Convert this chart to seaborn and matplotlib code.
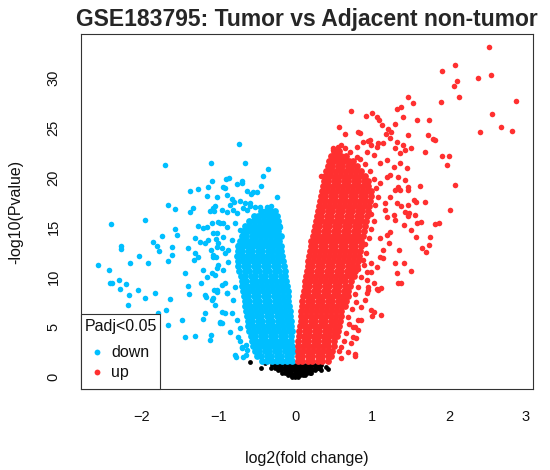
import matplotlib
matplotlib.use("Agg")
import matplotlib.pyplot as plt
from matplotlib.patches import Rectangle
import numpy as np
import pandas as pd
import seaborn as sns

# ---- data (log2 fold change, -log10 p) ----
# scattered "down" genes
down_x = [-0.73, -1.69, -1.10, -0.65, -0.35, -0.90, -0.86, -1.08, -0.70, -0.76, -0.42, -1.37, -1.27, -1.14,
          -0.92, -0.44, -0.63, -0.50, -0.58, -1.15, -0.24, -0.83, -0.80, -0.72, -0.65, -1.66, -1.56, -1.37,
          -1.33, -1.04, -1.11, -1.06, -0.89, -0.81, -0.68, -0.63, -0.59, -0.46, -0.37, -0.31, -1.95, -2.40,
          -1.26, -1.20, -1.15, -1.08, -0.98, -0.94, -1.56, -1.54, -1.73, -1.85, -1.80, -1.77, -2.27, -2.27,
          -1.60, -1.39, -1.30, -1.24, -1.18, -1.14, -1.02, -1.03, -1.00, -1.10, -1.07, -1.03, -0.95, -0.91,
          -2.57, -2.42, -2.15, -2.03, -1.92, -1.66, -1.61, -1.44, -1.30, -1.32, -1.26, -1.20, -1.15, -1.09,
          -1.02, -2.41, -2.38, -2.29, -2.28, -2.20, -2.16, -2.04, -1.95, -1.82, -1.63, -1.39, -1.38, -1.23,
          -1.17, -1.02, -0.89, -2.18, -1.78, -1.68, -1.66, -1.48, -1.43, -1.30, -1.20, -1.11, -1.10, -1.18,
          -1.16, -1.09, -1.06, -1.04, -0.98, -0.96, -0.92, -0.96, -0.72, -0.64, -0.69, -0.77, -0.64,
          -1.07, -1.00, -1.04, -0.94, -0.87, -0.91, -1.02, -1.07, -0.89, -0.81, -0.96, -0.83, -0.76, -0.98,
          -0.85, -0.74, -0.70, -0.78, -0.68, -0.63, -0.72, -0.78, -0.70, -0.55, -0.59, -0.52, -0.33, -0.29,
          -0.24, -0.20, -0.94, -1.02, -0.89, -1.07, -0.96, -0.85, -0.76, -1.00, -0.89, -0.78, -1.07, -0.94,
          -0.83, -0.72, -1.02, -0.87, -0.74]
down_y = [23.37, 21.26, 21.40, 21.43, 20.83, 19.86, 19.93, 19.63, 19.60, 19.33, 20.10, 18.66, 18.80, 19.06,
          18.93, 19.16, 18.60, 18.53, 18.30, 18.15, 17.99, 17.82, 17.55, 17.65, 17.45, 17.25, 16.79, 16.55,
          16.89, 17.12, 16.59, 16.62, 16.52, 16.72, 16.89, 16.72, 17.12, 17.05, 17.05, 17.12, 15.72, 15.32,
          15.12, 14.88, 15.05, 15.39, 15.39, 15.45, 14.78, 14.21, 14.14, 13.48, 13.14, 12.64, 13.14, 12.84,
          13.04, 12.88, 13.94, 13.54, 13.44, 13.71, 14.44, 13.78, 13.38, 12.71, 12.21, 12.04, 12.88, 12.38,
          11.20, 10.73, 11.43, 12.11, 11.37, 11.63, 12.21, 10.37, 12.38, 11.71, 12.04, 10.70, 10.03, 10.37,
          10.87, 9.37, 9.43, 9.70, 8.80, 9.27, 8.19, 8.70, 7.86, 8.43, 7.79, 9.10, 8.26, 9.37,
          8.22, 8.53, 8.43, 7.19, 6.42, 6.69, 5.19, 5.69, 3.95, 4.11, 5.76, 3.68, 4.18, 6.36,
          8.02, 7.69, 8.70, 7.19, 5.52, 9.20, 6.36, 5.35, 3.58, 3.18, 2.85, 2.01, 2.18,
          12.04, 11.20, 10.20, 10.70, 11.53, 9.37, 8.70, 7.86, 8.36, 7.69, 6.52, 6.36, 5.69, 5.36,
          4.51, 4.01, 3.01, 2.18, 2.01, 2.68, 4.85, 9.03, 19.40, 18.56, 17.39, 17.05, 16.72, 16.05,
          15.72, 15.05, 19.06, 18.05, 18.23, 16.89, 16.72, 17.22, 16.39, 15.55, 15.05, 15.39, 14.38, 14.04,
          13.71, 14.71, 13.04, 12.71, 13.21]

# dense "down" core, one row of x values per -log10 p level
down_core_y = [1.6, 2.1, 2.6, 3.1, 3.6, 4.1, 4.6, 5.1, 5.6, 6.1, 6.6, 7.1, 7.6, 8.1, 8.6, 9.1, 9.6,
               10.1, 10.6, 11.1, 11.6, 12.1, 12.6, 13.1, 13.6, 14.1, 14.6, 15.1, 15.6, 16.1, 16.6]
down_core_x = [
    [-0.43, -0.37, -0.30, -0.24, -0.17, -0.11, -0.04],
    [-0.50, -0.44, -0.37, -0.31, -0.24, -0.18, -0.11, -0.05],
    [-0.53, -0.47, -0.40, -0.34, -0.27, -0.21, -0.14, -0.08, -0.02],
    [-0.55, -0.49, -0.42, -0.36, -0.29, -0.23, -0.16, -0.10, -0.04],
    [-0.57, -0.51, -0.44, -0.38, -0.31, -0.25, -0.18, -0.12, -0.05],
    [-0.58, -0.52, -0.45, -0.39, -0.32, -0.26, -0.19, -0.13, -0.06],
    [-0.60, -0.54, -0.47, -0.41, -0.34, -0.28, -0.21, -0.15, -0.08, -0.04],
    [-0.61, -0.55, -0.48, -0.42, -0.35, -0.29, -0.22, -0.16, -0.10, -0.05],
    [-0.62, -0.56, -0.49, -0.43, -0.36, -0.30, -0.23, -0.17, -0.11, -0.06],
    [-0.63, -0.57, -0.50, -0.44, -0.37, -0.31, -0.24, -0.18, -0.12, -0.07],
    [-0.64, -0.58, -0.51, -0.45, -0.38, -0.32, -0.25, -0.19, -0.13, -0.07],
    [-0.65, -0.59, -0.52, -0.46, -0.39, -0.33, -0.26, -0.20, -0.14, -0.08],
    [-0.66, -0.60, -0.53, -0.47, -0.40, -0.34, -0.27, -0.21, -0.15, -0.09],
    [-0.67, -0.61, -0.54, -0.48, -0.41, -0.35, -0.28, -0.22, -0.16, -0.10],
    [-0.68, -0.62, -0.55, -0.49, -0.42, -0.36, -0.29, -0.23, -0.16, -0.10],
    [-0.69, -0.63, -0.56, -0.50, -0.43, -0.37, -0.30, -0.24, -0.17, -0.11],
    [-0.70, -0.64, -0.57, -0.51, -0.44, -0.38, -0.31, -0.25, -0.18, -0.12],
    [-0.71, -0.65, -0.58, -0.52, -0.45, -0.39, -0.32, -0.26, -0.19, -0.13],
    [-0.73, -0.66, -0.60, -0.53, -0.47, -0.40, -0.34, -0.27, -0.21, -0.14],
    [-0.74, -0.67, -0.61, -0.54, -0.48, -0.41, -0.35, -0.28, -0.22, -0.15],
    [-0.75, -0.68, -0.62, -0.55, -0.49, -0.42, -0.36, -0.29, -0.23, -0.16],
    [-0.76, -0.69, -0.63, -0.56, -0.50, -0.43, -0.37, -0.30, -0.24, -0.17],
    [-0.75, -0.69, -0.62, -0.56, -0.49, -0.43, -0.36, -0.30, -0.24, -0.18],
    [-0.74, -0.68, -0.61, -0.55, -0.48, -0.42, -0.35, -0.29, -0.23, -0.18],
    [-0.72, -0.66, -0.59, -0.53, -0.46, -0.40, -0.33, -0.27, -0.21],
    [-0.70, -0.64, -0.57, -0.51, -0.44, -0.38, -0.31, -0.25, -0.19],
    [-0.68, -0.62, -0.55, -0.49, -0.42, -0.36, -0.29, -0.23],
    [-0.65, -0.59, -0.52, -0.46, -0.39, -0.33, -0.27, -0.21],
    [-0.60, -0.54, -0.47, -0.41, -0.35, -0.29, -0.23],
    [-0.54, -0.48, -0.42, -0.36, -0.30, -0.24],
    [-0.44, -0.38, -0.32, -0.27],
]

# scattered "up" genes
up_x = [2.52, 1.91, 2.08, 2.10, 2.06, 2.37, 2.54, 2.87, 1.90, 2.13, 2.56, 2.68, 2.82, 2.40, 1.47, 1.53,
        1.32, 1.37, 0.72, 0.92, 1.00, 1.06, 1.09, 1.40, 1.58, 1.74, 0.57, 1.13, 1.21, 1.29, 1.18, 1.25,
        1.47, 1.72, 1.79, 1.82, 0.65, 0.81, 0.84, 0.94, 0.99, 1.07, 1.32, 1.40, 1.68, 1.51, 1.91, 2.00,
        1.97, 2.07, 2.01, 1.82, 1.87, 0.49, 0.45, 0.34, 1.62, 1.69, 1.54, 1.47, 1.34, 1.43, 1.46, 1.56,
        1.64, 1.58, 1.75, 1.74, 1.65, 1.70, 1.48, 1.37, 1.47, 1.57, 1.51, 1.57, 1.41, 1.30, 1.28, 1.19,
        1.17, 1.23, 1.19, 1.10, 1.22, 1.14, 1.35, 1.29, 1.41, 1.32, 1.38, 1.50, 1.12, 1.06, 0.99, 1.02,
        1.10, 1.14, 1.06, 0.99, 0.93, 0.91, 0.86, 0.82, 0.78, 0.75, 0.78, 0.79, 0.77, 1.00, 1.11, 1.34,
        1.07, 0.95, 0.93, 0.72, 0.68, 0.59, 0.82, 0.75, 0.86, 0.49, 0.56, 0.60, 0.65, 0.71, 0.80, 0.88,
        0.97, 1.06, 1.14, 1.23, 1.30, 1.36, 1.43, 1.10, 1.19, 1.28, 1.36, 1.45, 1.23, 1.34, 1.43, 1.47,
        1.36, 0.80, 0.93, 1.02, 1.30, 1.23, 1.17, 1.32, 1.10, 1.19, 0.95, 1.02, 0.93, 0.99, 0.88,
        0.60, 0.57, 0.63, 0.66, 0.70, 0.68, 0.74, 0.79, 0.77, 0.82, 0.85, 0.81, 0.89, 0.92, 0.90,
        0.96, 0.98, 1.02, 0.99, 1.04, 1.07, 1.05, 1.02, 0.97, 0.91, 0.84]
up_y = [33.04, 30.69, 31.26, 29.69, 29.16, 29.99, 30.26, 27.65, 27.52, 28.02, 26.35, 25.05, 24.67, 24.57,
        28.02, 27.48, 26.85, 27.08, 26.65, 26.18, 26.42, 26.02, 25.75, 26.02, 25.75, 25.75, 25.05, 25.22,
        24.87, 25.35, 24.34, 24.57, 24.24, 24.24, 23.81, 23.74, 24.31, 24.51, 24.47, 23.67, 23.24, 23.41,
        23.51, 23.24, 22.51, 22.91, 22.14, 22.11, 21.26, 19.23, 16.72, 15.29, 15.45, 22.91, 21.06, 20.13,
        19.13, 17.55, 17.72, 19.06, 19.00, 16.55, 16.12, 16.22, 15.55, 15.39, 14.04, 13.21, 12.94, 12.54,
        16.39, 17.12, 17.22, 17.55, 14.71, 13.98, 15.22, 15.72, 16.22, 16.05, 16.72, 14.54, 14.21, 13.88,
        13.38, 12.71, 12.71, 11.43, 11.37, 10.37, 9.37, 10.60, 6.19, 8.77, 6.69, 6.52, 12.04, 11.88,
        11.03, 10.53, 9.70, 7.69, 7.02, 5.69, 5.02, 4.01, 2.28, 3.85, 2.08, 6.09, 8.87, 9.37,
        8.70, 9.03, 8.36, 3.35, 2.51, 3.01, 4.68, 5.02, 5.69, 22.74, 23.07, 23.24, 22.91, 22.57, 23.07,
        23.57, 23.74, 23.07, 23.41, 23.91, 22.91, 22.41, 22.74, 21.40, 21.73, 21.06, 21.40, 20.90, 20.23,
        20.06, 19.73, 18.73, 18.73, 22.07, 22.57, 22.24, 18.73, 18.05, 17.39, 17.39, 19.40, 20.06, 8.70,
        9.37, 10.53, 11.37, 11.71,
        1.90, 2.60, 3.60, 4.40, 5.30, 6.00, 6.80, 7.50, 8.30, 9.00, 10.00, 10.80, 11.20, 12.40, 13.30,
        13.90, 14.80, 15.60, 16.30, 17.20, 18.00, 18.90, 19.80, 20.60, 21.30, 21.80]

# dense "up" core
up_core_y = [1.6, 2.1, 2.6, 3.1, 3.6, 4.1, 4.6, 5.1, 5.6, 6.1, 6.6, 7.1, 7.6, 8.1, 8.6, 9.1, 9.6, 10.1,
             10.6, 11.1, 11.6, 12.1, 12.6, 13.1, 13.6, 14.1, 14.6, 15.1, 15.6, 16.1, 16.6, 17.1, 17.6,
             18.1, 18.6, 19.1, 19.6, 20.1, 20.6, 21.1, 21.6, 22.1, 22.6]
up_core_x = [
    [0.03, 0.09, 0.16, 0.22, 0.29, 0.35, 0.42],
    [0.03, 0.09, 0.16, 0.22, 0.29, 0.35, 0.42, 0.47],
    [0.03, 0.10, 0.16, 0.23, 0.29, 0.36, 0.42, 0.48],
    [0.04, 0.10, 0.17, 0.23, 0.30, 0.36, 0.43, 0.50],
    [0.04, 0.11, 0.17, 0.24, 0.30, 0.37, 0.43, 0.50],
    [0.05, 0.11, 0.18, 0.24, 0.31, 0.37, 0.44, 0.50, 0.54],
    [0.05, 0.12, 0.18, 0.25, 0.31, 0.38, 0.44, 0.50, 0.55],
    [0.06, 0.12, 0.19, 0.25, 0.32, 0.38, 0.45, 0.51, 0.57],
    [0.07, 0.13, 0.20, 0.26, 0.33, 0.39, 0.46, 0.52, 0.58],
    [0.07, 0.14, 0.20, 0.27, 0.33, 0.40, 0.46, 0.53, 0.60],
    [0.08, 0.14, 0.21, 0.27, 0.34, 0.40, 0.47, 0.53, 0.60],
    [0.09, 0.15, 0.22, 0.28, 0.35, 0.41, 0.48, 0.54, 0.61, 0.64],
    [0.09, 0.16, 0.22, 0.29, 0.35, 0.42, 0.48, 0.55, 0.61, 0.66],
    [0.10, 0.16, 0.23, 0.29, 0.36, 0.42, 0.49, 0.55, 0.62, 0.68],
    [0.11, 0.17, 0.24, 0.30, 0.37, 0.43, 0.50, 0.56, 0.63, 0.69],
    [0.12, 0.18, 0.25, 0.31, 0.38, 0.44, 0.51, 0.57, 0.64, 0.71],
    [0.13, 0.19, 0.26, 0.32, 0.39, 0.45, 0.52, 0.58, 0.65, 0.72],
    [0.14, 0.20, 0.27, 0.33, 0.40, 0.46, 0.53, 0.59, 0.66, 0.72, 0.76],
    [0.15, 0.21, 0.28, 0.34, 0.41, 0.47, 0.54, 0.60, 0.67, 0.73, 0.78],
    [0.16, 0.22, 0.29, 0.35, 0.42, 0.48, 0.55, 0.61, 0.68, 0.74, 0.80],
    [0.17, 0.23, 0.30, 0.36, 0.43, 0.49, 0.56, 0.62, 0.69, 0.75, 0.81],
    [0.18, 0.24, 0.31, 0.37, 0.44, 0.50, 0.57, 0.63, 0.70, 0.76, 0.83],
    [0.19, 0.25, 0.32, 0.38, 0.45, 0.51, 0.58, 0.64, 0.71, 0.77, 0.84],
    [0.20, 0.26, 0.33, 0.39, 0.46, 0.52, 0.59, 0.65, 0.72, 0.78, 0.85],
    [0.21, 0.27, 0.34, 0.40, 0.47, 0.53, 0.60, 0.66, 0.73, 0.79, 0.86],
    [0.23, 0.29, 0.36, 0.42, 0.49, 0.55, 0.62, 0.68, 0.75, 0.81, 0.88],
    [0.24, 0.30, 0.37, 0.43, 0.50, 0.56, 0.63, 0.69, 0.76, 0.82, 0.89],
    [0.25, 0.31, 0.38, 0.44, 0.51, 0.57, 0.64, 0.70, 0.77, 0.83, 0.90],
    [0.27, 0.33, 0.40, 0.46, 0.53, 0.59, 0.66, 0.72, 0.79, 0.85, 0.92],
    [0.28, 0.34, 0.41, 0.47, 0.54, 0.60, 0.67, 0.73, 0.80, 0.86, 0.93],
    [0.29, 0.35, 0.42, 0.48, 0.55, 0.61, 0.68, 0.74, 0.81, 0.87, 0.94],
    [0.31, 0.37, 0.44, 0.50, 0.57, 0.63, 0.70, 0.76, 0.83, 0.89, 0.96],
    [0.32, 0.38, 0.45, 0.51, 0.58, 0.64, 0.71, 0.77, 0.84, 0.90, 0.97],
    [0.33, 0.39, 0.46, 0.52, 0.59, 0.65, 0.72, 0.78, 0.85, 0.91, 0.98],
    [0.35, 0.41, 0.48, 0.54, 0.61, 0.67, 0.74, 0.80, 0.87, 0.93, 0.99],
    [0.36, 0.42, 0.49, 0.55, 0.62, 0.68, 0.75, 0.81, 0.88, 0.94],
    [0.37, 0.43, 0.50, 0.56, 0.63, 0.69, 0.76, 0.82, 0.89, 0.95],
    [0.38, 0.45, 0.51, 0.58, 0.64, 0.71, 0.77, 0.84, 0.90],
    [0.40, 0.46, 0.53, 0.59, 0.66, 0.72, 0.79, 0.85],
    [0.42, 0.48, 0.55, 0.61, 0.68, 0.74, 0.80],
    [0.44, 0.50, 0.57, 0.63, 0.70, 0.75],
    [0.47, 0.53, 0.60, 0.66],
    [0.50, 0.57],
]

# not significant (black), dense bottom wedge plus a few strays
ns_core_y = [1.15, 0.9, 0.65, 0.4, 0.15, -0.05]
ns_core_x = [
    [-0.30, -0.26, -0.22, -0.18, -0.14, -0.10, -0.06, -0.02, 0.02, 0.06, 0.10, 0.14, 0.18, 0.22, 0.26, 0.30, 0.34],
    [-0.27, -0.23, -0.19, -0.15, -0.11, -0.07, -0.03, 0.01, 0.05, 0.09, 0.13, 0.17, 0.21, 0.25, 0.29, 0.32],
    [-0.22, -0.18, -0.14, -0.10, -0.06, -0.02, 0.02, 0.06, 0.10, 0.14, 0.18, 0.22, 0.26],
    [-0.17, -0.13, -0.09, -0.05, -0.01, 0.03, 0.07, 0.11, 0.15, 0.19, 0.21],
    [-0.10, -0.06, -0.02, 0.02, 0.06, 0.10, 0.12],
    [-0.04, 0.00, 0.04],
]
ns_x = [-0.59, -0.44, -0.39, -0.32, 0.29, 0.34, 0.40, 0.43]
ns_y = [1.50, 0.84, 1.34, 0.84, 0.84, 0.67, 0.95, 0.75]

legend_labels = ["down", "up"]

def rows_to_points(row_y, row_x):
    xs, ys = [], []
    for y, row in zip(row_y, row_x):
        xs += row
        ys += [y] * len(row)
    return xs, ys

dcx, dcy = rows_to_points(down_core_y, down_core_x)
ucx, ucy = rows_to_points(up_core_y, up_core_x)
ncx, ncy = rows_to_points(ns_core_y, ns_core_x)

df = pd.DataFrame({
    "logFC": down_x + dcx + up_x + ucx + ns_x + ncx,
    "logP": down_y + dcy + up_y + ucy + ns_y + ncy,
    "group": (["down"] * len(down_x) + ["down_core"] * len(dcx) + ["up"] * len(up_x)
              + ["up_core"] * len(ucx) + ["ns"] * (len(ns_x) + len(ncx))),
})

blue = "#00BFFF"
red = "#FF3030"

sns.set_style("white")
plt.rcParams['font.family'] = ['Liberation Sans', 'DejaVu Sans']

fig = plt.figure(figsize=(5.5, 4.7), dpi=100)
ax = fig.add_axes([0.1473, 0.1723, 0.8224, 0.7553])

sns.scatterplot(data=df[df.group == "ns"], x="logFC", y="logP", color="black", s=12,
                linewidth=0, ax=ax, legend=False)
sns.scatterplot(data=df[df.group == "down_core"], x="logFC", y="logP", color=blue, s=24,
                linewidth=0, ax=ax, legend=False)
sns.scatterplot(data=df[df.group == "down"], x="logFC", y="logP", color=blue, s=16,
                linewidth=0, ax=ax, legend=False)
sns.scatterplot(data=df[df.group == "up_core"], x="logFC", y="logP", color=red, s=24,
                linewidth=0, ax=ax, legend=False)
sns.scatterplot(data=df[df.group == "up"], x="logFC", y="logP", color=red, s=16,
                linewidth=0, ax=ax, legend=False)

ax.set_xlim(-2.787, 3.095)
ax.set_ylim(-1.23, 34.37)
ax.set_xticks([-2, -1, 0, 1, 2, 3])
ax.set_yticks([0, 5, 10, 15, 20, 25, 30])

for sp in ax.spines.values():
    sp.set_visible(True)
    sp.set_color("#333333")
    sp.set_linewidth(0.8)

ax.tick_params(direction="out", length=5.8, width=0.75, color="#333333", labelsize=10.5,
               labelcolor="#111111", pad=9)
ax.tick_params(axis="y", labelrotation=90)
for lab in ax.get_yticklabels():
    lab.set_va("center")

ax.set_xlabel("log2(fold change)", fontsize=11.5, color="#111111")
ax.set_ylabel("-log10(Pvalue)", fontsize=11.5, color="#111111")
ax.xaxis.set_label_coords(0.5, -69 / 355)
ax.xaxis.label.set_va("center")
ax.yaxis.set_label_coords(-65 / 452.3, 0.5)
ax.yaxis.label.set_va("center")

ax.set_title("GSE183795: Tumor vs Adjacent non-tumor", fontsize=16.5, fontweight="bold", pad=6)

# legend box in the lower left corner, laid out like R's legend()
ax.add_patch(Rectangle((0, 0), 0.1747, 0.2113, transform=ax.transAxes, facecolor="white",
                       edgecolor="#333333", linewidth=0.8, zorder=5, clip_on=False))
ax.text(0.0873, 0.1775, "Padj<0.05", transform=ax.transAxes, ha="center", va="center",
        fontsize=11.5, color="#111111", zorder=6)
for lab, col, yy in zip(legend_labels, [blue, red], [0.1042, 0.0479]):
    ax.plot([0.0354], [yy], marker="o", ls="", color=col, markersize=4.2, markeredgewidth=0,
            transform=ax.transAxes, zorder=6, clip_on=False)
    ax.text(0.0663, yy, lab, transform=ax.transAxes, ha="left", va="center",
            fontsize=11.5, color="#111111", zorder=6)

fig.savefig("out.png", dpi=100)
